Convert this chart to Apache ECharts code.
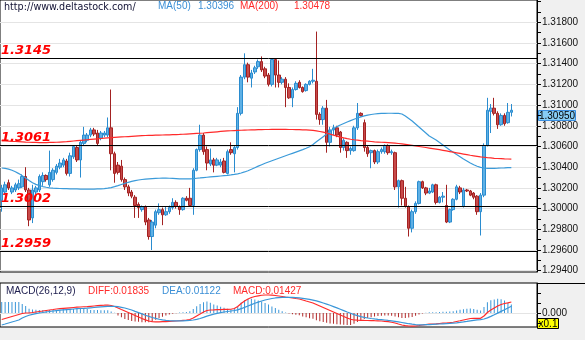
<!DOCTYPE html>
<html>
<head>
<meta charset="utf-8">
<script src="https://cdn.jsdelivr.net/npm/echarts@6/dist/echarts.min.js"></script>
<style>
  html, body { margin: 0; padding: 0; background: #f0f0f0; }
  #chart { width: 585px; height: 340px; }
</style>
</head>
<body>
<div id="chart"></div>
<script>
// EUR/USD style candles, one entry per bar
const opens = [
1.3008,1.3016,1.3025,1.3016,1.3018,1.3020,1.3021,1.3031,1.3018,1.2991,
1.3016,1.3018,1.3026,1.3032,1.3023,1.3028,1.3035,1.3040,1.3042,1.3046,
1.3034,1.3050,1.3059,1.3047,1.3063,1.3066,1.3071,1.3076,1.3073,1.3068,
1.3071,1.3071,1.3078,1.3053,1.3042,1.3041,1.3028,1.3021,1.3016,1.3011,
1.3004,1.2999,1.3002,1.2989,1.2973,1.2984,1.2996,1.2999,1.2994,1.2997,
1.3001,1.3006,1.3002,1.2999,1.3010,1.3010,1.3003,1.3037,1.3057,1.3071,
1.3057,1.3043,1.3047,1.3042,1.3042,1.3046,1.3034,1.3057,1.3053,1.3059,
1.3092,1.3127,1.3139,1.3126,1.3132,1.3137,1.3142,1.3135,1.3129,1.3120,
1.3144,1.3129,1.3122,1.3125,1.3117,1.3107,1.3115,1.3122,1.3117,1.3114,
1.3120,1.3123,1.3123,1.3091,1.3086,1.3097,1.3064,1.3076,1.3078,1.3074,
1.3059,1.3064,1.3056,1.3056,1.3078,1.3092,1.3083,1.3059,1.3054,1.3056,
1.3045,1.3055,1.3055,1.3061,1.3054,1.3054,1.3021,1.3027,1.3010,1.3002,
1.2981,1.2997,1.3005,1.3026,1.3020,1.3015,1.3016,1.3023,1.3006,1.3011,
1.3003,1.2987,1.2999,1.3009,1.3020,1.3002,1.3018,1.3017,1.3015,1.3012,
1.2997,1.3013,1.3061,1.3094,1.3097,1.3092,1.3081,1.3090,1.3083,1.3093
];
const closes = [
1.3020,1.3023,1.3020,1.3020,1.3023,1.3024,1.3031,1.3018,1.2989,1.3018,
1.3020,1.3031,1.3032,1.3028,1.3035,1.3037,1.3041,1.3044,1.3047,1.3034,
1.3051,1.3060,1.3047,1.3064,1.3071,1.3071,1.3076,1.3072,1.3063,1.3073,
1.3073,1.3078,1.3053,1.3034,1.3035,1.3028,1.3021,1.3015,1.3012,1.3003,
1.3001,1.3002,1.2987,1.2973,1.2987,1.2997,1.2999,1.2994,1.2997,1.3001,
1.3006,1.3002,1.2999,1.3010,1.3008,1.3003,1.3037,1.3057,1.3071,1.3055,
1.3044,1.3047,1.3042,1.3047,1.3045,1.3035,1.3055,1.3054,1.3059,1.3092,
1.3127,1.3139,1.3127,1.3131,1.3136,1.3142,1.3134,1.3128,1.3120,1.3144,
1.3129,1.3122,1.3125,1.3117,1.3107,1.3115,1.3121,1.3117,1.3113,1.3120,
1.3123,1.3124,1.3091,1.3086,1.3097,1.3064,1.3076,1.3078,1.3071,1.3059,
1.3066,1.3056,1.3058,1.3078,1.3092,1.3090,1.3059,1.3053,1.3056,1.3045,
1.3055,1.3057,1.3061,1.3054,1.3055,1.3021,1.3027,1.3010,1.3002,1.2981,
1.2997,1.3005,1.3026,1.3020,1.3015,1.3017,1.3023,1.3006,1.3011,1.3012,
1.2987,1.2999,1.3009,1.3021,1.3016,1.3018,1.3017,1.3013,1.3011,1.2997,
1.3013,1.3061,1.3095,1.3097,1.3092,1.3081,1.3090,1.3082,1.3093,1.3095
];
const highs = [
1.3023,1.3026,1.3028,1.3022,1.3025,1.3028,1.3033,1.3040,1.3020,1.3023,
1.3022,1.3033,1.3035,1.3033,1.3056,1.3039,1.3043,1.3048,1.3049,1.3048,
1.3054,1.3061,1.3061,1.3066,1.3079,1.3073,1.3078,1.3078,1.3076,1.3075,
1.3075,1.3088,1.3115,1.3055,1.3045,1.3047,1.3030,1.3023,1.3018,1.3013,
1.3006,1.3003,1.3003,1.2991,1.2989,1.2999,1.3005,1.3001,1.3002,1.3003,
1.3010,1.3008,1.3003,1.3011,1.3012,1.3020,1.3039,1.3058,1.3081,1.3073,
1.3060,1.3058,1.3049,1.3049,1.3048,1.3049,1.3057,1.3064,1.3061,1.3098,
1.3129,1.3150,1.3141,1.3134,1.3138,1.3144,1.3147,1.3137,1.3131,1.3145,
1.3145,1.3143,1.3127,1.3127,1.3121,1.3117,1.3123,1.3124,1.3118,1.3121,
1.3124,1.3135,1.3171,1.3093,1.3099,1.3105,1.3079,1.3081,1.3080,1.3075,
1.3068,1.3065,1.3060,1.3080,1.3102,1.3093,1.3086,1.3061,1.3057,1.3057,
1.3057,1.3059,1.3062,1.3062,1.3057,1.3055,1.3028,1.3028,1.3021,1.3003,
1.2999,1.3007,1.3027,1.3027,1.3021,1.3020,1.3024,1.3024,1.3012,1.3016,
1.3023,1.3000,1.3010,1.3023,1.3022,1.3020,1.3019,1.3018,1.3016,1.3013,
1.3015,1.3063,1.3107,1.3101,1.3107,1.3094,1.3092,1.3092,1.3102,1.3101
];
const lows = [
1.2997,1.3013,1.3018,1.3014,1.3016,1.3018,1.3020,1.3016,1.2983,1.2986,
1.3014,1.3016,1.3022,1.3026,1.3021,1.3026,1.3033,1.3038,1.3040,1.3032,
1.3031,1.3048,1.3045,1.3030,1.3061,1.3064,1.3069,1.3070,1.3061,1.3066,
1.3069,1.3069,1.3037,1.3025,1.3033,1.3026,1.3018,1.3012,1.3010,1.2991,
1.2991,1.2997,1.2984,1.2970,1.2960,1.2981,1.2994,1.2984,1.2993,1.2995,
1.2999,1.3000,1.2994,1.2998,1.3007,1.3002,1.2994,1.3036,1.3055,1.3052,
1.3037,1.3041,1.3035,1.3041,1.3040,1.3034,1.3033,1.3052,1.3035,1.3057,
1.3090,1.3125,1.3122,1.3117,1.3130,1.3135,1.3132,1.3126,1.3118,1.3118,
1.3117,1.3117,1.3120,1.3098,1.3106,1.3098,1.3114,1.3116,1.3112,1.3113,
1.3119,1.3121,1.3086,1.3081,1.3081,1.3054,1.3060,1.3071,1.3069,1.3054,
1.3056,1.3049,1.3052,1.3055,1.3076,1.3089,1.3055,1.3050,1.3039,1.3043,
1.3043,1.3053,1.3053,1.3052,1.3052,1.3018,1.3001,1.3003,1.3001,1.2973,
1.2977,1.2995,1.3004,1.3019,1.3013,1.3014,1.3015,1.3004,1.3005,1.3006,
1.2986,1.2986,1.2998,1.3008,1.3014,1.3001,1.3016,1.3012,1.3009,1.2994,
1.2974,1.3011,1.3060,1.3073,1.3090,1.3077,1.3080,1.3080,1.3082,1.3089
];

// Moving averages
const ma50 = [
1.30392,1.30388,1.30381,1.30370,1.30356,1.30338,1.30318,1.30296,1.30272,1.30250,
1.30234,1.30222,1.30213,1.30206,1.30201,1.30198,1.30196,1.30194,1.30193,1.30192,
1.30191,1.30190,1.30190,1.30189,1.30189,1.30189,1.30189,1.30189,1.30190,1.30191,
1.30193,1.30197,1.30203,1.30212,1.30222,1.30233,1.30244,1.30254,1.30263,1.30270,
1.30276,1.30281,1.30285,1.30288,1.30290,1.30292,1.30293,1.30294,1.30294,1.30293,
1.30292,1.30290,1.30288,1.30287,1.30287,1.30288,1.30290,1.30293,1.30296,1.30300,
1.30303,1.30306,1.30309,1.30312,1.30315,1.30318,1.30321,1.30325,1.30330,1.30336,
1.30344,1.30354,1.30366,1.30380,1.30395,1.30410,1.30424,1.30438,1.30450,1.30462,
1.30474,1.30486,1.30498,1.30510,1.30522,1.30534,1.30546,1.30558,1.30570,1.30583,
1.30597,1.30620,1.30645,1.30670,1.30695,1.30720,1.30745,1.30770,1.30792,1.30808,
1.30822,1.30836,1.30850,1.30863,1.30875,1.30886,1.30895,1.30903,1.30909,1.30914,
1.30917,1.30919,1.30920,1.30921,1.30921,1.30920,1.30919,1.30914,1.30894,1.30870,
1.30846,1.30817,1.30788,1.30759,1.30730,1.30701,1.30682,1.30663,1.30638,1.30614,
1.30590,1.30566,1.30544,1.30522,1.30501,1.30479,1.30460,1.30440,1.30423,1.30409,
1.30398,1.30392,1.30388,1.30388,1.30389,1.30390,1.30392,1.30393,1.30395,1.30396
];
const ma200 = [
1.30655,1.30654,1.30652,1.30650,1.30648,1.30646,1.30644,1.30642,1.30641,1.30640,
1.30639,1.30638,1.30638,1.30638,1.30639,1.30640,1.30641,1.30643,1.30645,1.30647,
1.30650,1.30653,1.30656,1.30659,1.30662,1.30665,1.30668,1.30671,1.30674,1.30677,
1.30680,1.30683,1.30686,1.30688,1.30690,1.30692,1.30694,1.30696,1.30698,1.30700,
1.30702,1.30704,1.30706,1.30707,1.30708,1.30709,1.30710,1.30711,1.30712,1.30713,
1.30714,1.30715,1.30716,1.30718,1.30720,1.30722,1.30724,1.30726,1.30728,1.30730,
1.30733,1.30736,1.30739,1.30742,1.30745,1.30748,1.30750,1.30752,1.30754,1.30756,
1.30757,1.30758,1.30759,1.30760,1.30761,1.30762,1.30763,1.30764,1.30764,1.30765,
1.30765,1.30765,1.30765,1.30765,1.30764,1.30764,1.30763,1.30762,1.30761,1.30760,
1.30758,1.30755,1.30751,1.30745,1.30738,1.30730,1.30720,1.30710,1.30700,1.30691,
1.30683,1.30676,1.30670,1.30665,1.30661,1.30657,1.30654,1.30651,1.30648,1.30645,
1.30643,1.30641,1.30639,1.30637,1.30635,1.30632,1.30629,1.30625,1.30620,1.30615,
1.30610,1.30605,1.30600,1.30595,1.30590,1.30585,1.30580,1.30575,1.30569,1.30563,
1.30557,1.30551,1.30545,1.30539,1.30533,1.30527,1.30521,1.30515,1.30510,1.30505,
1.30500,1.30496,1.30492,1.30489,1.30486,1.30484,1.30482,1.30480,1.30479,1.30478
];

// MACD(26,12,9) panel
const macdDiff = [
-0.0109,-0.0092,-0.0075,-0.0058,-0.0042,-0.0025,-0.0008,0.0000,0.0000,0.0008,
0.0017,0.0025,0.0033,0.0042,0.0050,0.0058,0.0067,0.0072,0.0077,0.0082,
0.0087,0.0092,0.0097,0.0100,0.0104,0.0107,0.0112,0.0117,0.0122,0.0127,
0.0130,0.0134,0.0125,0.0109,0.0084,0.0058,0.0033,0.0008,-0.0017,-0.0042,
-0.0067,-0.0092,-0.0114,-0.0134,-0.0145,-0.0147,-0.0147,-0.0145,-0.0144,-0.0140,
-0.0137,-0.0134,-0.0129,-0.0124,-0.0119,-0.0109,-0.0084,-0.0050,-0.0017,0.0017,
0.0042,0.0050,0.0053,0.0057,0.0058,0.0060,0.0062,0.0063,0.0075,0.0109,
0.0159,0.0200,0.0234,0.0259,0.0276,0.0287,0.0296,0.0301,0.0301,0.0297,
0.0292,0.0284,0.0276,0.0267,0.0259,0.0251,0.0242,0.0234,0.0217,0.0200,
0.0184,0.0167,0.0142,0.0117,0.0092,0.0067,0.0042,0.0017,-0.0008,-0.0033,
-0.0058,-0.0084,-0.0105,-0.0117,-0.0120,-0.0122,-0.0124,-0.0125,-0.0127,-0.0129,
-0.0130,-0.0134,-0.0139,-0.0145,-0.0154,-0.0167,-0.0184,-0.0200,-0.0210,-0.0217,
-0.0220,-0.0217,-0.0209,-0.0200,-0.0194,-0.0187,-0.0184,-0.0180,-0.0175,-0.0170,
-0.0167,-0.0162,-0.0154,-0.0142,-0.0130,-0.0117,-0.0104,-0.0092,-0.0089,-0.0089,
-0.0089,-0.0050,0.0008,0.0050,0.0084,0.0117,0.0142,0.0159,0.0170,0.01835
];
const macdDea = [
-0.0200,-0.0184,-0.0167,-0.0150,-0.0134,-0.0117,-0.0084,-0.0058,-0.0037,-0.0022,
-0.0010,0.0000,0.0008,0.0017,0.0025,0.0033,0.0040,0.0047,0.0052,0.0057,
0.0062,0.0067,0.0072,0.0075,0.0078,0.0082,0.0087,0.0092,0.0097,0.0102,
0.0107,0.0110,0.0112,0.0110,0.0105,0.0095,0.0084,0.0067,0.0050,0.0028,
0.0007,-0.0015,-0.0037,-0.0057,-0.0075,-0.0090,-0.0104,-0.0114,-0.0122,-0.0127,
-0.0130,-0.0132,-0.0132,-0.0130,-0.0127,-0.0124,-0.0117,-0.0107,-0.0092,-0.0073,
-0.0053,-0.0035,-0.0018,-0.0005,0.0007,0.0017,0.0025,0.0033,0.0042,0.0053,
0.0072,0.0094,0.0117,0.0140,0.0162,0.0182,0.0200,0.0217,0.0230,0.0242,
0.0251,0.0257,0.0261,0.0262,0.0262,0.0261,0.0257,0.0252,0.0245,0.0237,
0.0227,0.0215,0.0202,0.0185,0.0167,0.0149,0.0129,0.0107,0.0085,0.0063,
0.0040,0.0017,-0.0005,-0.0027,-0.0045,-0.0060,-0.0073,-0.0084,-0.0092,-0.0099,
-0.0105,-0.0110,-0.0117,-0.0124,-0.0130,-0.0139,-0.0149,-0.0159,-0.0169,-0.0179,
-0.0187,-0.0194,-0.0197,-0.0197,-0.0195,-0.0194,-0.0190,-0.0187,-0.0184,-0.0180,
-0.0177,-0.0174,-0.0169,-0.0164,-0.0157,-0.0149,-0.0140,-0.0130,-0.0122,-0.0115,
-0.0110,-0.0100,-0.0082,-0.0057,-0.0030,-0.0002,0.0027,0.0055,0.0084,0.01122
];
const macdHist = [
0.0184,0.0184,0.0184,0.0184,0.0184,0.0184,0.0150,0.0117,0.0073,0.0060,
0.0053,0.0050,0.0050,0.0050,0.0050,0.0050,0.0047,0.0050,0.0067,0.0067,
0.0067,0.0067,0.0067,0.0067,0.0067,0.0067,0.0050,0.0050,0.0050,0.0047,
0.0047,0.0047,0.0027,0.0003,-0.0043,-0.0073,-0.0100,-0.0117,-0.0134,-0.0140,
-0.0147,-0.0154,-0.0154,-0.0154,-0.0140,-0.0114,-0.0087,-0.0063,-0.0043,-0.0027,
-0.0013,-0.0003,0.0007,0.0013,0.0017,0.0030,0.0067,0.0114,0.0150,0.0180,
0.0190,0.0170,0.0144,0.0124,0.0104,0.0087,0.0073,0.0060,0.0067,0.0110,
0.0174,0.0214,0.0234,0.0237,0.0227,0.0210,0.0190,0.0167,0.0140,0.0110,
0.0084,0.0053,0.0030,0.0010,-0.0007,-0.0020,-0.0030,-0.0037,-0.0057,-0.0073,
-0.0087,-0.0097,-0.0120,-0.0137,-0.0150,-0.0164,-0.0174,-0.0180,-0.0187,-0.0194,
-0.0197,-0.0200,-0.0200,-0.0180,-0.0150,-0.0124,-0.0100,-0.0084,-0.0070,-0.0060,
-0.0050,-0.0047,-0.0043,-0.0043,-0.0047,-0.0057,-0.0070,-0.0084,-0.0084,-0.0077,
-0.0067,-0.0047,-0.0023,-0.0007,0.0003,0.0013,0.0013,0.0013,0.0017,0.0020,
0.0020,0.0023,0.0030,0.0043,0.0053,0.0063,0.0073,0.0077,0.0067,0.0053,
0.0043,0.0100,0.0180,0.0214,0.0227,0.0237,0.0230,0.0207,0.0174,0.01427
];

// Axis ticks and reference levels
const priceLabels = [1.294,1.296,1.298,1.300,1.302,1.304,1.306,1.308,1.310,1.312,1.314,1.316,1.318];
const priceTicks = [1.294,1.295,1.296,1.297,1.298,1.299,1.300,1.301,1.302,1.303,1.304,1.305,1.306,1.307,1.308,1.309,1.310,1.311,1.312,1.313,1.314,1.315,1.316,1.317,1.318,1.319,1.320];
const levels = [1.3145, 1.3061, 1.3002, 1.2959];
const macdTicks = [-0.0167, 0, 0.0167, 0.0334];
const macdLabels = [0];

// Header texts
const siteText = 'http://www.deltastock.com/';
const ma50Name = 'MA(50)', ma200Name = 'MA(200)';
const macdName = 'MACD(26,12,9)';
const lastPrice = 1.30950;

const slotCount = 157;
const cats = Array.from({ length: slotCount }, (_, i) => i);
const candleData = opens.map((o, i) => [o, closes[i], lows[i], highs[i]]);

const UP_FILL = '#5eb0e5', UP_LINE = '#2a8ccf';
const DN_FILL = '#c84a4a', DN_LINE = '#a32222';

const chart = echarts.init(document.getElementById('chart'), null, { renderer: 'canvas', width: 585, height: 340 });

const hiddenAxisParts = {
  axisLine: { show: false }, axisTick: { show: false }, axisLabel: { show: false }
};

chart.setOption({
  animation: false,
  backgroundColor: '#f0f0f0',
  grid: [
    { left: 0, top: 0, width: 537, height: 272, show: true, backgroundColor: '#ffffff', borderColor: '#000', borderWidth: 1 },
    { left: 0, top: 283, width: 537, height: 44, show: true, backgroundColor: '#ffffff', borderColor: '#000', borderWidth: 1 }
  ],
  xAxis: [
    { type: 'category', gridIndex: 0, data: cats, boundaryGap: true, show: false },
    { type: 'category', gridIndex: 1, data: cats, boundaryGap: true, show: false }
  ],
  yAxis: [
    {
      type: 'value', gridIndex: 0, position: 'right', min: 1.293875, max: 1.32015,
      axisLine: { show: true, lineStyle: { color: '#000', width: 1 } },
      axisTick: { show: true, length: 4, lineStyle: { color: '#000' }, customValues: priceTicks },
      axisLabel: { show: true, customValues: priceLabels, formatter: v => v.toFixed(5), color: '#111', fontSize: 10, fontFamily: 'Liberation Sans', margin: 5 },
      splitLine: { show: false }
    },
    Object.assign({
      type: 'value', gridIndex: 0, position: 'right', min: 1.293875, max: 1.32015,
      splitLine: { show: true, lineStyle: { color: '#e4e4e4', width: 1 } }
    }, hiddenAxisParts, { axisTick: { show: false, customValues: priceLabels } }),
    {
      type: 'value', gridIndex: 1, position: 'right', min: -0.02338, max: 0.0501,
      axisLine: { show: true, lineStyle: { color: '#000', width: 1 } },
      axisTick: { show: true, length: 4, lineStyle: { color: '#000' }, customValues: macdTicks },
      axisLabel: { show: true, customValues: macdLabels, formatter: v => v.toFixed(3), color: '#111', fontSize: 10, fontFamily: 'Liberation Sans', margin: 5 },
      splitLine: { show: false }
    },
    Object.assign({
      type: 'value', gridIndex: 1, position: 'right', min: -0.02338, max: 0.0501,
      splitLine: { show: true, lineStyle: { color: '#e4e4e4', width: 1 } }
    }, hiddenAxisParts, { axisTick: { show: false, customValues: macdLabels } })
  ],
  series: [
    {
      name: 'price', type: 'candlestick', xAxisIndex: 0, yAxisIndex: 0,
      data: candleData, barWidth: 3, z: 3,
      itemStyle: { color: UP_FILL, color0: DN_FILL, borderColor: UP_LINE, borderColor0: DN_LINE, borderWidth: 1 },
      emphasis: { disabled: true },
      markLine: {
        silent: true, symbol: ['none', 'none'], animation: false, precision: 4,
        lineStyle: { color: '#000', width: 1, type: 'solid' },
        label: {
          show: true, position: 'insideStartTop', distance: 1,
          formatter: p => Number(p.value).toFixed(4),
          color: '#ff0000', fontSize: 13, fontWeight: 'bold', fontStyle: 'italic', fontFamily: 'DejaVu Sans'
        },
        emphasis: { disabled: true },
        data: levels.map(v => ({ yAxis: v }))
      }
    },
    {
      name: ma50Name, type: 'line', xAxisIndex: 0, yAxisIndex: 0, data: ma50,
      symbol: 'none', z: 4, lineStyle: { color: '#3a9ad9', width: 1.2 }, emphasis: { disabled: true }
    },
    {
      name: ma200Name, type: 'line', xAxisIndex: 0, yAxisIndex: 0, data: ma200,
      symbol: 'none', z: 4, lineStyle: { color: '#ff2a2a', width: 1.2 }, emphasis: { disabled: true }
    },
    {
      name: 'MACD', type: 'bar', xAxisIndex: 1, yAxisIndex: 2, data: macdHist, barWidth: 1,
      itemStyle: { color: p => (p.value >= 0 ? '#3a96d8' : '#b22a2a') }, emphasis: { disabled: true }
    },
    {
      name: 'DIFF', type: 'line', xAxisIndex: 1, yAxisIndex: 2, data: macdDiff,
      symbol: 'none', lineStyle: { color: '#ff2a2a', width: 1.2 }, emphasis: { disabled: true }
    },
    {
      name: 'DEA', type: 'line', xAxisIndex: 1, yAxisIndex: 2, data: macdDea,
      symbol: 'none', lineStyle: { color: '#3a96d8', width: 1.2 }, emphasis: { disabled: true }
    }
  ]
});

// Header, side tags and the MACD divider
const tagY = chart.convertToPixel({ yAxisIndex: 0 }, lastPrice);
const last = macdDiff.length - 1;
const txt = (x, y, text, fill, size, family) => ({
  type: 'text', x: x, y: y, silent: true, z: 20,
  style: { text: text, fill: fill, font: (size || 10) + 'px ' + (family || '"Liberation Sans"'), textVerticalAlign: 'middle' }
});

chart.setOption({
  graphic: [
    txt(4, 7, siteText, '#111133', 9.6, '"DejaVu Sans"'),
    txt(158, 6, ma50Name, '#3b8fd6'),
    txt(198, 6, ma50[ma50.length - 1].toFixed(5), '#3b8fd6'),
    txt(240, 6, ma200Name, '#ff2a2a'),
    txt(294, 6, ma200[ma200.length - 1].toFixed(5), '#ff2a2a'),
    txt(6, 291, macdName, '#202050'),
    txt(88, 291, 'DIFF:' + macdDiff[last].toFixed(5), '#ff2a2a'),
    txt(162, 291, 'DEA:' + macdDea[last].toFixed(5), '#3b8fd6'),
    txt(233, 291, 'MACD:' + macdHist[last].toFixed(5), '#ff2a2a'),
    { type: 'line', silent: true, z: 20, shape: { x1: 537, y1: 283.5, x2: 585, y2: 283.5 }, style: { stroke: '#000', lineWidth: 1 } },
    {
      type: 'group', x: 538, y: Math.round(tagY), z: 21, silent: true,
      children: [
        { type: 'rect', shape: { x: 0.5, y: 0.5, width: 37, height: 10 }, style: { fill: '#87cdf5', stroke: '#3a8ee0', lineWidth: 1 } },
        { type: 'text', x: 19, y: 6, style: { text: lastPrice.toFixed(5), fill: '#000', font: '10px "Liberation Sans"', textAlign: 'center', textVerticalAlign: 'middle' } }
      ]
    },
    {
      type: 'group', x: 537, y: 318, z: 21, silent: true,
      children: [
        { type: 'rect', shape: { x: 0.5, y: 0.5, width: 21, height: 10 }, style: { fill: '#ffff00', stroke: '#000', lineWidth: 1 } },
        { type: 'text', x: 11, y: 6, style: { text: 'x0.1', fill: '#000', font: '10px "Liberation Sans"', textAlign: 'center', textVerticalAlign: 'middle' } }
      ]
    }
  ]
});
</script>
</body>
</html>
